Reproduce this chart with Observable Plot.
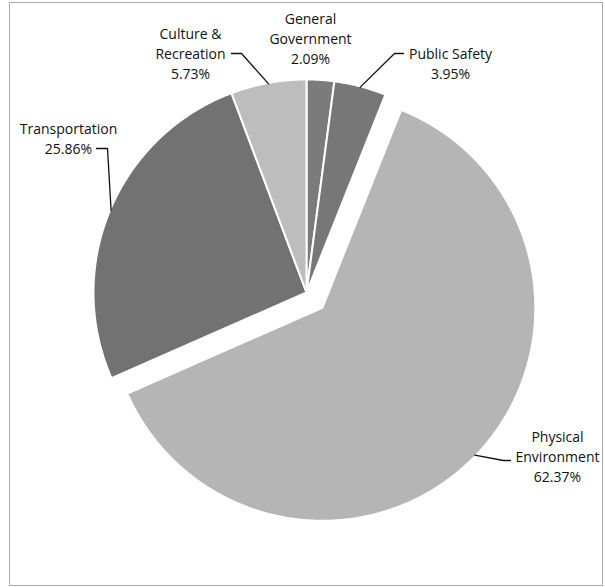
<!DOCTYPE html>
<html>
<head>
<meta charset="utf-8">
<script src="https://cdn.jsdelivr.net/npm/d3@7"></script>
<script src="https://cdn.jsdelivr.net/npm/@observablehq/plot@0.6"></script>
<style>
  html, body { margin: 0; padding: 0; background: #fff; }
</style>
</head>
<body>
<div id="chart"></div>
<script>
// ---- data ----
const categories = ["General Government", "Public Safety", "Physical Environment", "Transportation", "Culture & Recreation"];
const labelNames = ["General\nGovernment", "Public Safety", "Physical\nEnvironment", "Transportation", "Culture &\nRecreation"];
const percents = [2.09, 3.95, 62.37, 25.86, 5.73];
const percentLabels = ["2.09%", "3.95%", "62.37%", "25.86%", "5.73%"];
const exploded = [false, false, true, false, false];

// ---- style / layout ----
const sliceColors = ["#7b7b7b", "#777777", "#b5b5b5", "#727272", "#bdbdbd"];
const CX = 306, CY = 292, R = 213, EXPLODE = 22;
const labelPos = [[310, 37], [450, 62], [557, 455], [68, 137], [190, 52]];
const elbows = [null, [[394, 53], [403, 53]], [[503, 460], [510, 460]], [[107, 148], [96, 148]], [[241, 53], [231, 53]]];

// ---- geometry derived from data ----
const rad = d => d * Math.PI / 180;
let acc = 0;
const slices = percents.map((p, i) => {
  const a0 = acc, a1 = acc + p / 100 * 360;
  acc = a1;
  const mid = (a0 + a1) / 2;
  const off = exploded[i] ? EXPLODE : 0;
  const cx = CX + off * Math.sin(rad(mid));
  const cy = CY - off * Math.cos(rad(mid));
  return {name: categories[i], a0, a1, mid, cx, cy};
});

const polyPoints = [];
slices.forEach(s => {
  polyPoints.push({name: s.name, x: s.cx, y: s.cy});
  const n = Math.max(2, Math.ceil((s.a1 - s.a0) / 0.5));
  for (let k = 0; k <= n; k++) {
    const a = s.a0 + (s.a1 - s.a0) * k / n;
    polyPoints.push({name: s.name, x: s.cx + R * Math.sin(rad(a)), y: s.cy - R * Math.cos(rad(a))});
  }
});

const leaderPoints = [];
slices.forEach((s, i) => {
  if (!elbows[i]) return;
  leaderPoints.push({name: s.name, x: s.cx + (R - 1) * Math.sin(rad(s.mid)), y: s.cy - (R - 1) * Math.cos(rad(s.mid))});
  elbows[i].forEach(([x, y]) => leaderPoints.push({name: s.name, x, y}));
});

const labels = categories.map((c, i) => ({
  name: c, text: labelNames[i] + "\n" + percentLabels[i], x: labelPos[i][0], y: labelPos[i][1]
}));

const chart = Plot.plot({
  width: 605,
  height: 587,
  margin: 0,
  style: {fontFamily: "'Open Sans', sans-serif", background: "#fff"},
  x: {domain: [0, 605], range: [0, 605], axis: null},
  y: {domain: [0, 587], range: [0, 587], axis: null},
  color: {domain: categories, range: sliceColors},
  marks: [
    Plot.frame({insetLeft: 9, insetTop: 2, insetRight: 3, insetBottom: 2, stroke: "#555", strokeDasharray: "1,1"}),
    Plot.line(polyPoints, {x: "x", y: "y", z: "name", fill: "name", stroke: "white", strokeWidth: 2, strokeLinejoin: "round", curve: "linear-closed"}),
    Plot.line(leaderPoints, {x: "x", y: "y", z: "name", stroke: "#111", strokeWidth: 1.3}),
    Plot.text(labels, {x: "x", y: "y", text: "text", fontSize: 14, lineHeight: 1.42, lineAnchor: "middle", textAnchor: "middle", fill: "#111"})
  ]
});
document.getElementById("chart").appendChild(chart);
</script>
</body>
</html>
